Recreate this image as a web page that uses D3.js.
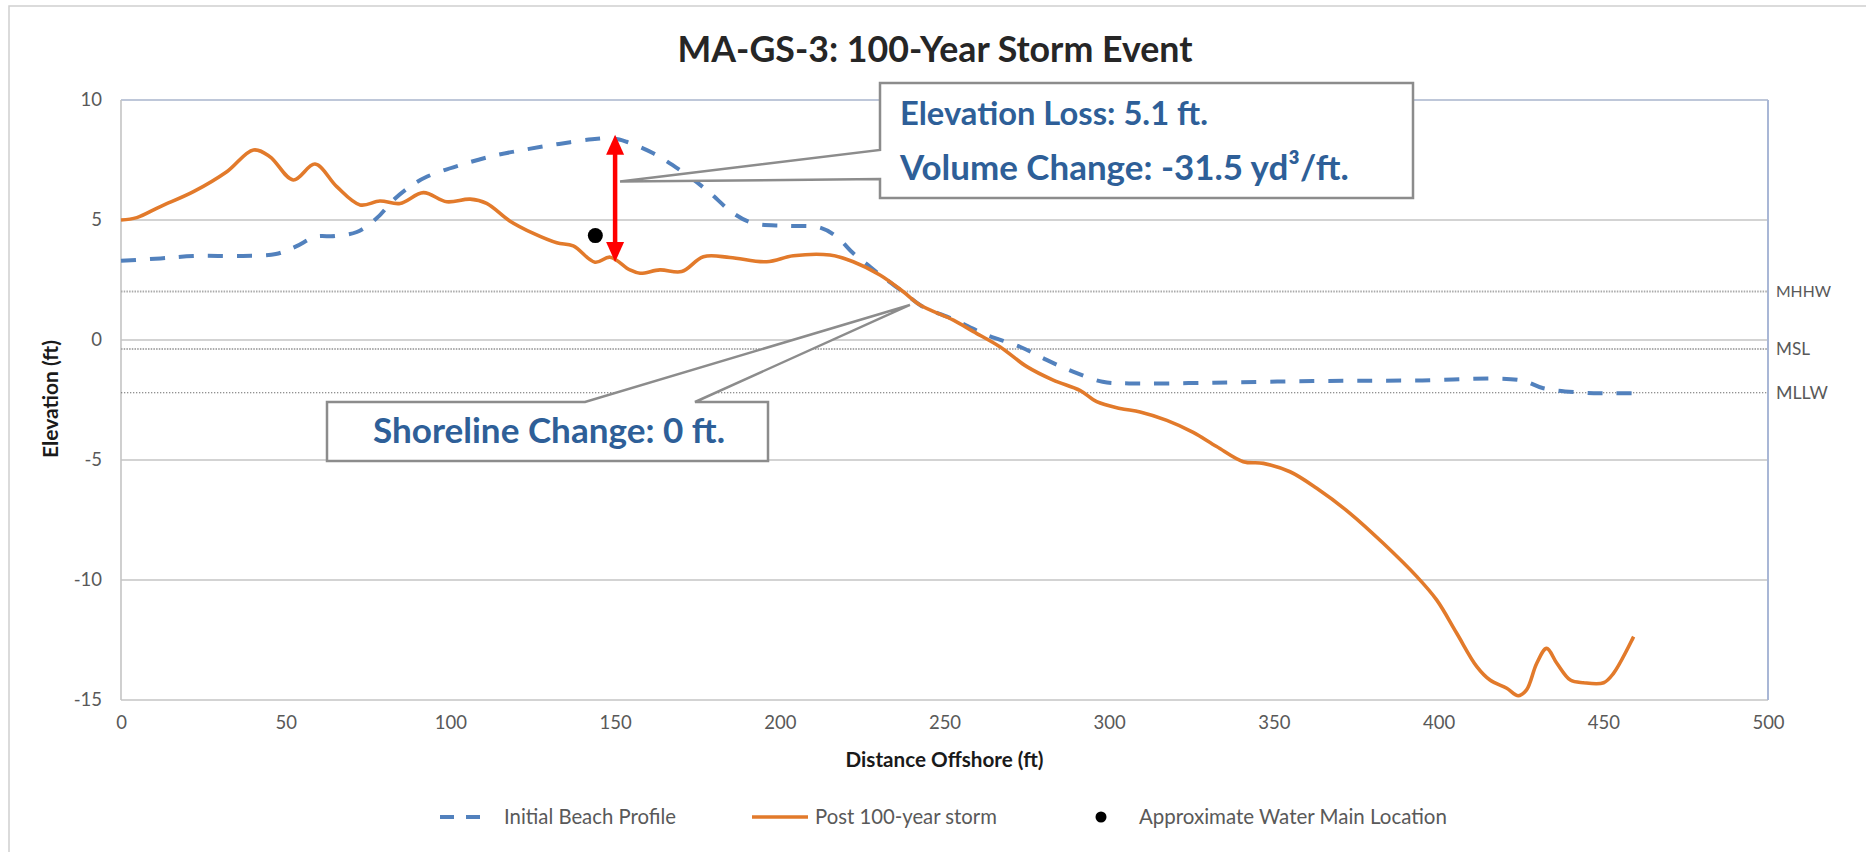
<!DOCTYPE html>
<html>
<head>
<meta charset="utf-8">
<script src="https://cdn.jsdelivr.net/npm/d3@7"></script>
<style>
  html, body { margin: 0; padding: 0; background: #fff; }
  svg { display: block; }
</style>
</head>
<body>
<svg id="chart" width="1866" height="852"></svg>
<script>
// ---------------- DATA ----------------
const chartTitle = "MA-GS-3: 100-Year Storm Event";
const xTicks = [0, 50, 100, 150, 200, 250, 300, 350, 400, 450, 500];
const yTicks = [-15, -10, -5, 0, 5, 10];
const seriesNames = ["Initial Beach Profile", "Post 100-year storm", "Approximate Water Main Location"];

// Initial beach profile [distance ft, elevation ft]
const initialProfile = [
  [0,3.3],[12,3.4],[22,3.5],[37,3.5],[47,3.58],[53,3.89],[59,4.3],[65,4.33],[71.6,4.5],
  [77.6,5.07],[82.7,5.83],[87.7,6.39],[92.8,6.8],[103,7.29],[113,7.67],[123,7.94],[133,8.17],
  [143,8.36],[149.5,8.4],[153.5,8.26],[161.6,7.78],[169.7,7.08],[177.8,6.25],[185.9,5.28],
  [192,4.86],[202,4.76],[212,4.69],[217.3,4.3],[222.3,3.61],[227.4,3.05],[232,2.55],[237.5,2.0],
  [243,1.42],[252.7,0.86],[262.8,0.21],[272.9,-0.28],[281,-0.83],[289,-1.32],[298,-1.74],
  [306,-1.81],[331.6,-1.78],[362,-1.71],[392,-1.69],[424.7,-1.67],[431.8,-2.01],[442,-2.18],
  [451,-2.22],[459,-2.22]
];

// Post 100-year storm profile [distance ft, elevation ft]
const postStorm = [
  [0,5.0],[4.8,5.1],[11.8,5.55],[22,6.18],[32,7.0],[40.2,7.92],[45.2,7.64],[52.3,6.67],
  [58.9,7.33],[65.5,6.39],[72.6,5.63],[78.6,5.79],[84.7,5.69],[91.8,6.14],[98.9,5.76],
  [106,5.87],[111,5.69],[118,4.96],[125.2,4.44],[132.3,4.05],[137.3,3.92],[143.9,3.24],
  [148.5,3.45],[154.5,2.92],[157.6,2.78],[163.6,2.92],[170.2,2.85],[176.8,3.47],[184.9,3.44],
  [196,3.26],[204.1,3.51],[215.2,3.54],[222.3,3.26],[230.4,2.71],[237.5,2.01],[242.6,1.46],
  [252.7,0.83],[258.8,0.35],[266.8,-0.28],[275,-1.11],[283,-1.67],[291.1,-2.1],[296.2,-2.57],
  [303.3,-2.85],[309.4,-3.0],[317.5,-3.35],[325.5,-3.85],[332.6,-4.44],[340.7,-5.07],
  [346.8,-5.14],[354.9,-5.49],[363,-6.18],[373.1,-7.22],[383.2,-8.47],[393.4,-9.86],
  [399.4,-10.83],[405.5,-12.22],[411.6,-13.61],[415.6,-14.17],[420.7,-14.51],[424.2,-14.82],
  [426.7,-14.58],[429.8,-13.47],[432.8,-12.85],[435.9,-13.47],[440,-14.17],[444,-14.28],
  [450.1,-14.28],[453.1,-13.89],[459.2,-12.36]
];

// Approximate water main location
const waterMain = [[144, 4.35]];

// Tidal datums
const datumNames = ["MHHW", "MSL", "MLLW"];
const datumValues = [2.02, -0.37, -2.2];

// Elevation-loss arrow (distance, top elevation, bottom elevation)
const lossArrow = [150, 8.55, 3.25];

// Callout texts
const calloutTop = ["Elevation Loss: 5.1 ft.", "Volume Change: -31.5 yd\u00B3/ft."];
const calloutBottom = ["Shoreline Change: 0 ft."];
const calloutTopTarget = [151.5, 6.6];
const calloutBottomTarget = [239.5, 1.46];

// ---------------- CHART ----------------
const svg = d3.select("#chart");
const W = 1866, H = 852;
const plot = { left: 121, right: 1768, top: 100, bottom: 700 };
const x = d3.scaleLinear().domain([0, 500]).range([plot.left, plot.right]);
const y = d3.scaleLinear().domain([-15, 10]).range([plot.bottom, plot.top]);

const FONT = "Lato, 'Open Sans', 'DejaVu Sans', sans-serif";
const TXT = "#595959";

function fit(sel, target) {
  const w = sel.node().getComputedTextLength();
  const fs = parseFloat(sel.attr("font-size"));
  if (w > 0) sel.attr("font-size", (fs * target / w).toFixed(2));
  return sel;
}

svg.append("rect").attr("width", W).attr("height", H).attr("fill", "#fff");
// outer chart border
svg.append("rect").attr("x", 9).attr("y", 6).attr("width", W + 20).attr("height", H + 20)
  .attr("fill", "none").attr("stroke", "#CFCFCF").attr("stroke-width", 1.5);

// gridlines
svg.append("g").selectAll("line").data(yTicks).join("line")
  .attr("x1", plot.left).attr("x2", plot.right)
  .attr("y1", d => y(d)).attr("y2", d => y(d))
  .attr("stroke", d => d === 10 ? "#A9B4CC" : "#C4C4C4")
  .attr("stroke-width", 1.6);

// left and right borders
svg.append("line").attr("x1", plot.left).attr("x2", plot.left)
  .attr("y1", plot.top).attr("y2", plot.bottom).attr("stroke", "#C4C4C4").attr("stroke-width", 1.6);
svg.append("line").attr("x1", plot.right).attr("x2", plot.right)
  .attr("y1", plot.top).attr("y2", plot.bottom).attr("stroke", "#A9B7D6").attr("stroke-width", 2);

// datum lines
const datumStyles = [
  { stroke: "#ABABAB", w: 2, dash: "1.5,1.2" },
  { stroke: "#ABABAB", w: 2, dash: "1.5,1.2" },
  { stroke: "#6E6E6E", w: 1.1, dash: "1.3,1.7" }
];
svg.append("g").selectAll("line").data(datumValues).join("line")
  .attr("x1", plot.left).attr("x2", plot.right)
  .attr("y1", d => y(d)).attr("y2", d => y(d))
  .attr("stroke", (d, i) => datumStyles[i].stroke)
  .attr("stroke-width", (d, i) => datumStyles[i].w)
  .attr("stroke-dasharray", (d, i) => datumStyles[i].dash);
svg.append("g").selectAll("text").data(datumNames).join("text")
  .attr("x", plot.right + 8).attr("y", (d, i) => y(datumValues[i]))
  .attr("dy", "0.36em")
  .attr("font-family", FONT).attr("font-size", 14).attr("fill", TXT)
  .text(d => d)
  .each(function (d) {
    const t = { MHHW: 55, MSL: 34, MLLW: 52 }[d];
    fit(d3.select(this), t);
  });

// axes (labels only)
const fmt = d => String(d);
const yAxis = d3.axisLeft(y).tickValues(yTicks).tickFormat(fmt).tickSize(0).tickPadding(19);
const gy = svg.append("g").attr("transform", `translate(${plot.left},0)`).call(yAxis);
gy.select(".domain").remove();
gy.selectAll("text").attr("font-family", FONT).attr("font-size", 18.5).attr("fill", TXT);

const xAxis = d3.axisBottom(x).tickValues(xTicks).tickFormat(fmt).tickSize(0).tickPadding(16);
const gx = svg.append("g").attr("transform", `translate(0,${plot.bottom})`).call(xAxis);
gx.select(".domain").remove();
gx.selectAll("text").attr("font-family", FONT).attr("font-size", 18.5).attr("fill", TXT);

// axis titles
fit(svg.append("text").attr("transform", "translate(58,399) rotate(-90)")
  .attr("text-anchor", "middle").attr("font-family", FONT).attr("font-weight", "bold")
  .attr("font-size", 16).attr("fill", "#1a1a1a").text("Elevation (ft)"), 118);
fit(svg.append("text").attr("x", (plot.left + plot.right) / 2).attr("y", 767)
  .attr("text-anchor", "middle").attr("font-family", FONT).attr("font-weight", "bold")
  .attr("font-size", 17).attr("fill", "#1a1a1a").text("Distance Offshore (ft)"), 198);

// title
fit(svg.append("text").attr("x", 935).attr("y", 62).attr("text-anchor", "middle")
  .attr("font-family", FONT).attr("font-weight", "bold").attr("font-size", 34)
  .attr("fill", "#262626").text(chartTitle), 515);

// lines
const line = d3.line().x(d => x(d[0])).y(d => y(d[1])).curve(d3.curveCatmullRom.alpha(0.5));
svg.append("path").datum(initialProfile).attr("d", line)
  .attr("fill", "none").attr("stroke", "#5281BD").attr("stroke-width", 4)
  .attr("stroke-dasharray", "15,14");
svg.append("path").datum(postStorm).attr("d", line)
  .attr("fill", "none").attr("stroke", "#E27A2B").attr("stroke-width", 3.6)
  .attr("stroke-linejoin", "round");

// water main
svg.append("g").selectAll("circle").data(waterMain).join("circle")
  .attr("cx", d => x(d[0])).attr("cy", d => y(d[1])).attr("r", 7.5).attr("fill", "#000");

// red arrow
(function () {
  const ax = x(lossArrow[0]), yt = y(lossArrow[1]), yb = y(lossArrow[2]);
  const hw = 9, hh = 20;
  const g = svg.append("g").attr("fill", "#FF0000");
  g.append("line").attr("x1", ax).attr("x2", ax).attr("y1", yt + hh - 2).attr("y2", yb - hh + 2)
    .attr("stroke", "#FF0000").attr("stroke-width", 4.5);
  g.append("path").attr("d", `M${ax},${yt} L${ax - hw},${yt + hh} L${ax + hw},${yt + hh} Z`);
  g.append("path").attr("d", `M${ax},${yb} L${ax - hw},${yb - hh} L${ax + hw},${yb - hh} Z`);
})();

// callouts
const BOXSTROKE = "#8C8C8C", CALLBLUE = "#2E5F98";
(function () {
  const bx0 = 880, by0 = 83, bx1 = 1413, by1 = 198;
  const tx = x(calloutTopTarget[0]), ty = y(calloutTopTarget[1]);
  svg.append("path")
    .attr("d", `M${bx0},${by0} L${bx1},${by0} L${bx1},${by1} L${bx0},${by1} L${bx0},179 L${tx},${ty} L${bx0},150 Z`)
    .attr("fill", "#fff").attr("stroke", BOXSTROKE).attr("stroke-width", 2.5);
  fit(svg.append("text").attr("x", 900).attr("y", 125).attr("font-family", FONT)
    .attr("font-weight", "bold").attr("font-size", 27).attr("fill", CALLBLUE).text(calloutTop[0]), 308);
  fit(svg.append("text").attr("x", 900).attr("y", 180).attr("font-family", FONT)
    .attr("font-weight", "bold").attr("font-size", 27).attr("fill", CALLBLUE).text(calloutTop[1]), 449);
})();
(function () {
  const bx0 = 327, by0 = 402, bx1 = 768, by1 = 461;
  const tx = x(calloutBottomTarget[0]), ty = y(calloutBottomTarget[1]);
  svg.append("path")
    .attr("d", `M${bx0},${by0} L585,${by0} L${tx},${ty} L695,${by0} L${bx1},${by0} L${bx1},${by1} L${bx0},${by1} Z`)
    .attr("fill", "#fff").attr("stroke", BOXSTROKE).attr("stroke-width", 2.5);
  fit(svg.append("text").attr("x", 373).attr("y", 443).attr("font-family", FONT)
    .attr("font-weight", "bold").attr("font-size", 27).attr("fill", CALLBLUE).text(calloutBottom[0]), 352);
})();

// legend
const legY = 817;
const lg = svg.append("g");
lg.append("line").attr("x1", 440).attr("x2", 484).attr("y1", legY).attr("y2", legY)
  .attr("stroke", "#5281BD").attr("stroke-width", 4).attr("stroke-dasharray", "14,12");
fit(lg.append("text").attr("x", 504).attr("y", legY).attr("dy", "0.35em").attr("font-family", FONT)
  .attr("font-size", 17).attr("fill", TXT).text(seriesNames[0]), 172);
lg.append("line").attr("x1", 752).attr("x2", 808).attr("y1", legY).attr("y2", legY)
  .attr("stroke", "#E27A2B").attr("stroke-width", 3.6);
fit(lg.append("text").attr("x", 815).attr("y", legY).attr("dy", "0.35em").attr("font-family", FONT)
  .attr("font-size", 17).attr("fill", TXT).text(seriesNames[1]), 182);
lg.append("circle").attr("cx", 1101).attr("cy", legY).attr("r", 5.5).attr("fill", "#000");
fit(lg.append("text").attr("x", 1139).attr("y", legY).attr("dy", "0.35em").attr("font-family", FONT)
  .attr("font-size", 17).attr("fill", TXT).text(seriesNames[2]), 308);
</script>
</body>
</html>
